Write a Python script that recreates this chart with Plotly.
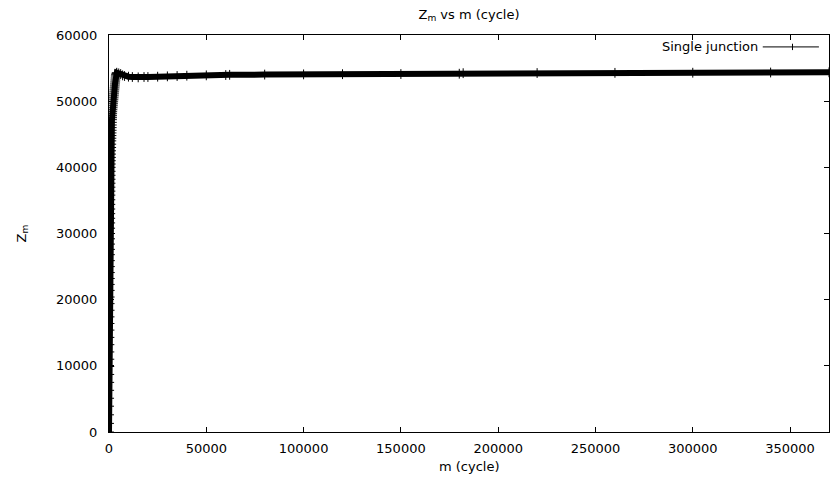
import plotly.graph_objects as go

# ---- data ----
m_cycle = [
    0, 20, 40, 60, 80, 100, 120, 140, 160, 180, 200, 220, 240, 260, 280, 300,
    320, 340, 360, 380, 400, 420, 440, 460, 480, 500, 520, 540, 560, 580, 600,
    620, 640, 660, 680, 700, 720, 740, 760, 780, 800, 820, 840, 860, 880,
    920, 960, 1000, 1040, 1080, 1120, 1160, 1200, 1240, 1280, 1320, 1360, 1400,
    1440, 1480, 1520, 1560, 1600, 1640, 1680,
    1780, 1880, 1980, 2080, 2180, 2280, 2380, 2480, 2580, 2680, 2780, 2880,
    2980, 3080, 3180, 3280, 3380, 3480, 3600, 3800,
    4000, 5000, 6000, 7000, 8000, 10000, 12000, 15000, 18000, 20000, 25000,
    30000, 35000, 40000, 50000, 60000, 62000, 80000, 100000, 120000, 150000,
    180000, 182000, 220000, 260000, 300000, 340000, 370000,
]
z_m = [
    0, 1300, 2600, 3900, 5100, 6300, 7500, 8700, 9900, 11000, 12100, 13200,
    14300, 15400, 16400, 17400, 18400, 19400, 20400, 21400, 22300, 23200,
    24100, 25000, 25900, 26800, 27600, 28400, 29200, 30000, 30800, 31600,
    32300, 33000, 33700, 34400, 35100, 35800, 36400, 37000, 37600, 38200,
    38800, 39400, 40000,
    40500, 41000, 41500, 42000, 42500, 43000, 43500, 44000, 44400, 44800,
    45200, 45600, 46000, 46400, 46800, 47200, 47500, 47800, 48100, 48400,
    48700, 49000, 49300, 49600, 49900, 50200, 50500, 50800, 51100, 51400,
    51700, 52000, 52300, 52600, 52900, 53200, 53500, 53800, 54000, 54200,
    54300, 54200, 54100, 53900, 53800, 53700, 53650, 53600, 53650, 53650,
    53700, 53750, 53800, 53850, 53900, 53950, 53980, 54020, 54050, 54080,
    54100, 54150, 54230, 54250, 54280, 54300, 54330, 54360,
]
x_ticks = [0, 50000, 100000, 150000, 200000, 250000, 300000, 350000]
y_ticks = [0, 10000, 20000, 30000, 40000, 50000, 60000]
series_name = "Single junction"

FONT = "DejaVu Sans"
FS = 13

fig = go.Figure()
fig.add_trace(go.Scatter(
    x=m_cycle, y=z_m, mode="lines+markers", name=series_name,
    line=dict(color="black", width=6),
    marker=dict(symbol="cross-thin", size=7, color="black",
                line=dict(color="black", width=1)),
    showlegend=False,
))

# legend drawn gnuplot-style (text left, sample right)
fig.add_annotation(text=series_name, x=0.904, y=0.970, xref="paper", yref="paper",
                   xanchor="right", yanchor="middle", showarrow=False,
                   font=dict(family=FONT, size=FS, color="black"))
fig.add_shape(type="line", xref="paper", yref="paper", x0=0.908, x1=0.986,
              y0=0.970, y1=0.970, line=dict(color="black", width=1))
fig.add_shape(type="line", xref="paper", yref="paper", x0=0.9493, x1=0.9493,
              y0=0.962, y1=0.978, line=dict(color="black", width=1))

axis_common = dict(
    showline=True, linecolor="black", linewidth=1, mirror="allticks",
    ticks="inside", ticklen=5, tickcolor="black", tickwidth=1,
    showgrid=False, zeroline=False,
    tickfont=dict(family=FONT, size=FS, color="black"),
)

fig.update_layout(
    width=830, height=478,
    margin=dict(l=109, r=1, t=35, b=46),
    paper_bgcolor="white", plot_bgcolor="white",
    title=dict(text="Z<sub>m</sub> vs m (cycle)", x=(109 + 829) / 2 / 830, xanchor="center",
               y=1 - 14 / 478, yanchor="middle",
               font=dict(family=FONT, size=FS, color="black")),
    xaxis=dict(range=[0, 370000], tickvals=x_ticks,
               ticktext=[str(v) for v in x_ticks], ticklabelstandoff=4,
               **axis_common),
    yaxis=dict(range=[0, 60000], tickvals=y_ticks,
               ticktext=[str(v) for v in y_ticks], ticklabelstandoff=8,
               **axis_common),
)
fig.add_annotation(text="m (cycle)", x=0.5, y=(432 - 466) / 397, xref="paper", yref="paper",
                   xanchor="center", yanchor="middle", showarrow=False,
                   font=dict(family=FONT, size=FS, color="black"))
fig.add_annotation(text="Z<sub>m</sub>", x=(22 - 109) / 720, y=0.5, xref="paper", yref="paper",
                   xanchor="center", yanchor="middle", showarrow=False, textangle=-90,
                   font=dict(family=FONT, size=FS, color="black"))

fig.write_html("out.html", config={"displayModeBar": False},
               post_script="document.body.style.margin='0';document.body.style.padding='0';")
